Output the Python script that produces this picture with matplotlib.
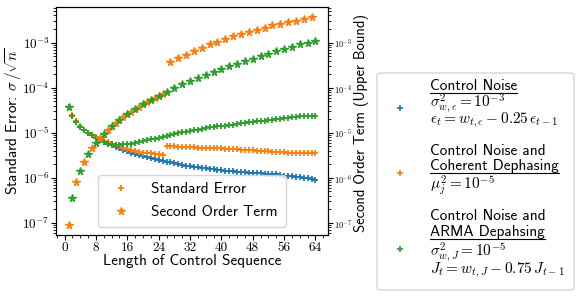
import matplotlib
matplotlib.use("Agg")
import matplotlib.pyplot as plt
import numpy as np
from matplotlib.lines import Line2D
from matplotlib.patches import FancyBboxPatch
from matplotlib.ticker import MultipleLocator, FuncFormatter, NullFormatter

plt.rcParams['font.family'] = ['cmss10', 'DejaVu Sans']
plt.rcParams['mathtext.fontset'] = 'cm'
plt.rcParams['axes.unicode_minus'] = False

# sequence lengths
L = np.arange(1, 65)

# standard error (log10), one value per sequence length 1..64
se_control_log10 = [
    -4.44, -4.62, -4.76, -4.87, -4.95, -5.01, -5.06, -5.12, -5.16, -5.20,
    -5.24, -5.28, -5.31, -5.35, -5.38, -5.41, -5.44, -5.47, -5.49, -5.52,
    -5.54, -5.56, -5.58, -5.60, -5.62, -5.64, -5.66, -5.68, -5.70, -5.71,
    -5.73, -5.74, -5.75, -5.77, -5.78, -5.79, -5.80, -5.81, -5.82, -5.83,
    -5.84, -5.85, -5.86, -5.87, -5.87, -5.88, -5.89, -5.89, -5.90, -5.90,
    -5.91, -5.91, -5.92, -5.92, -5.93, -5.96, -5.97, -5.97, -5.98, -5.99,
    -6.00, -6.01, -6.02, -6.04]
se_coherent_log10 = [
    -4.44, -4.61, -4.75, -4.86, -4.94, -5.00, -5.05, -5.10, -5.14, -5.18,
    -5.21, -5.24, -5.27, -5.30, -5.33, -5.36, -5.38, -5.40, -5.42, -5.44,
    -5.45, -5.46, -5.47, -5.48, -5.49, -5.30, -5.30, -5.30, -5.31, -5.31,
    -5.32, -5.32, -5.32, -5.33, -5.33, -5.34, -5.34, -5.35, -5.35, -5.35,
    -5.36, -5.36, -5.37, -5.37, -5.38, -5.38, -5.39, -5.39, -5.40, -5.40,
    -5.41, -5.41, -5.42, -5.42, -5.43, -5.43, -5.44, -5.44, -5.44, -5.45,
    -5.45, -5.46, -5.46, -5.46]
se_arma_log10 = [
    -4.44, -4.62, -4.76, -4.87, -4.95, -5.01, -5.06, -5.12, -5.17, -5.21,
    -5.24, -5.26, -5.27, -5.27, -5.26, -5.25, -5.24, -5.22, -5.21, -5.19,
    -5.17, -5.15, -5.13, -5.11, -5.09, -5.07, -5.05, -5.03, -5.01, -4.99,
    -4.98, -4.96, -4.94, -4.93, -4.91, -4.90, -4.88, -4.87, -4.86, -4.85,
    -4.84, -4.83, -4.82, -4.81, -4.79, -4.78, -4.77, -4.76, -4.75, -4.74,
    -4.73, -4.72, -4.71, -4.70, -4.69, -4.68, -4.67, -4.66, -4.65, -4.64,
    -4.64, -4.63, -4.62, -4.62]

# second order term (log10)
so_coherent_L = [1, 3, 5, 7, 9, 11, 13, 15, 17, 19, 21, 23, 25, 27, 29, 31,
                 33, 35, 37, 39, 41, 43, 45, 47, 49, 51, 53, 55, 57, 59, 61, 63]
so_coherent_log10 = [
    -7.05, -6.09, -5.64, -5.35, -5.12, -4.93, -4.78, -4.65, -4.53, -4.42,
    -4.32, -4.23, -4.14, -3.44, -3.35, -3.27, -3.19, -3.11, -3.04, -2.98,
    -2.92, -2.86, -2.81, -2.76, -2.72, -2.67, -2.62, -2.59, -2.55, -2.51,
    -2.47, -2.44]
so_arma_L = [1, 2, 4, 6, 8, 10, 12, 14, 16, 18, 20, 22, 24, 26, 28, 30, 32,
             34, 36, 38, 40, 42, 44, 46, 48, 50, 52, 54, 56, 58, 60, 62, 64]
so_arma_log10 = [
    -4.44, -6.44, -5.84, -5.48, -5.22, -5.02, -4.85, -4.71, -4.59, -4.48,
    -4.37, -4.28, -4.19, -4.09, -4.01, -3.92, -3.85, -3.79, -3.72, -3.66,
    -3.59, -3.53, -3.47, -3.41, -3.36, -3.30, -3.25, -3.19, -3.14, -3.09,
    -3.04, -3.00, -2.96]

c_blue, c_orange, c_green = '#1f77b4', '#ff7f0e', '#2ca02c'
W, H = 582, 297

fig = plt.figure(figsize=(W / 100, H / 100), dpi=100)
ax = fig.add_axes([56 / W, 1 - 235 / H, 272 / W, 228 / H])
ax2 = ax.twinx()

pk = dict(marker='+', ls='none', ms=5, mew=1.3)
ax.plot(L, 10 ** np.array(se_control_log10), color=c_blue, **pk)
ax.plot(L, 10 ** np.array(se_coherent_log10), color=c_orange, **pk)
ax.plot(L, 10 ** np.array(se_arma_log10), color=c_green, **pk)

sk = dict(marker='*', ls='none', ms=5.5)
ax2.plot(so_coherent_L, 10 ** np.array(so_coherent_log10), color=c_orange, **sk)
ax2.plot(so_arma_L, 10 ** np.array(so_arma_log10), color=c_green, **sk)


def decade(v, pos):
    e = np.log10(v)
    if abs(e - round(e)) > 1e-6:
        return ''
    return r'$10^{%d}$' % round(e)


ylim = (10 ** -7.27, 10 ** -2.21)
for a in (ax, ax2):
    a.set_yscale('log')
    a.set_ylim(ylim)
    a.yaxis.set_major_formatter(FuncFormatter(decade))
    a.yaxis.set_minor_formatter(NullFormatter())
ax.set_xlim(-2.2, 67.2)

ax.xaxis.set_major_locator(MultipleLocator(8))
ax.xaxis.set_minor_locator(MultipleLocator(2))
ax.xaxis.set_major_formatter(FuncFormatter(lambda v, p: '%d' % v))
ax.tick_params(axis='x', labelsize=9.5, labelfontfamily='cmr10', pad=1.5)
ax.tick_params(axis='y', labelsize=9.5, pad=1)
ax2.tick_params(axis='y', labelsize=6, pad=1)

ax.set_xlabel('Length of Control Sequence', fontsize=11)
ax.xaxis.set_label_coords(0.5, -0.085)
ax.set_ylabel(r'Standard Error: $\sigma\,/\sqrt{n}$', fontsize=11)
ax.yaxis.set_label_coords(-0.118, 0.5)
ax2.set_ylabel('Second Order Term (Upper Bound)', fontsize=10.5)
ax2.yaxis.set_label_coords(1.096, 0.49)

h1 = Line2D([], [], color=c_orange, **pk)
h2 = Line2D([], [], color=c_orange, **sk)
ax2.legend([h1, h2], ['Standard Error', 'Second Order Term'], fontsize=11,
           loc='lower left', bbox_to_anchor=(0.154, 0.035), borderaxespad=0,
           borderpad=0.5, labelspacing=0.6, handletextpad=1.0)

# legend describing the three noise models
def fx(px):
    return px / W

def fy(py):
    return 1 - py / H

box = FancyBboxPatch((fx(377), fy(290)), fx(574) - fx(377), fy(73) - fy(290),
                     boxstyle='round,pad=0,rounding_size=0.008',
                     transform=fig.transFigure, facecolor='white',
                     edgecolor='0.8', lw=0.8)
fig.add_artist(box)

for col, py in [(c_blue, 108), (c_orange, 173), (c_green, 249)]:
    fig.add_artist(Line2D([fx(400)], [fy(py)], marker='+', color=col, ms=4,
                          mew=1.2, transform=fig.transFigure))

lines = [
    ('Control Noise', 90, True),
    (r'$\sigma^2_{w,\epsilon} = 10^{-3}$', 107, False),
    (r'$\epsilon_t = w_{t,\epsilon} - 0.25\,\epsilon_{t-1}$', 123, False),
    ('Control Noise and', 155, False),
    ('Coherent Dephasing', 170, True),
    (r'$\mu_j^2 = 10^{-5}$', 189, False),
    ('Control Noise and', 220, False),
    ('ARMA Depahsing', 236, True),
    (r'$\sigma^2_{w,J} = 10^{-5}$', 256, False),
    (r'$J_t = w_{t,J} - 0.75\,J_{t-1}$', 273, False),
]
renderer = fig.canvas.get_renderer()
for s, py, under in lines:
    t = fig.text(fx(430), fy(py), s, fontsize=11, va='baseline', ha='left')
    if under:
        bb = t.get_window_extent(renderer)
        fig.add_artist(Line2D([fx(430), fx(430) + bb.width / W],
                              [fy(py + 2.5)] * 2, color='black', lw=0.8,
                              transform=fig.transFigure))

fig.savefig('out.png', dpi=100)
